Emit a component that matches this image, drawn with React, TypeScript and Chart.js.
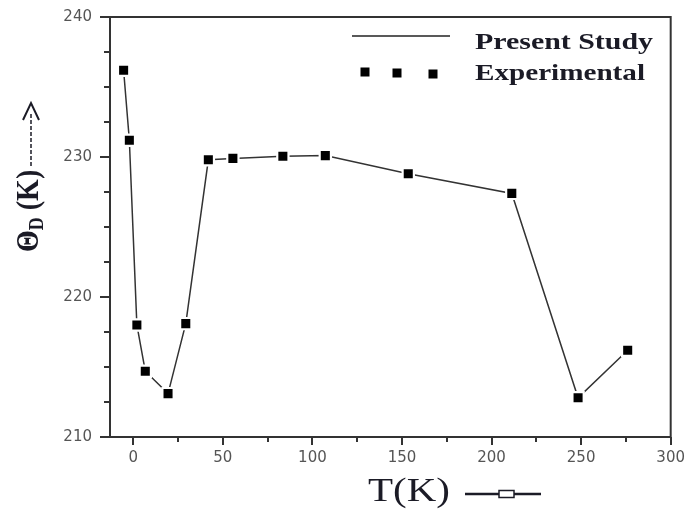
import React, { useEffect, useRef } from 'react';
import { Chart, registerables } from 'chart.js';

Chart.register(...registerables);

// ---- data ----
const tempK = [-5.4, -2.2, 2.0, 6.7, 19.4, 29.3, 41.9, 55.6, 83.5, 107.2, 153.5, 211.3, 248.3, 276.0];
const thetaD = [236.2, 231.2, 218.0, 214.7, 213.1, 218.1, 229.8, 229.9, 230.05, 230.1, 228.8, 227.4, 212.8, 216.2];

const xMajorTicks = [0, 50, 100, 150, 200, 250, 300];
const xMinorTicks = [25, 75, 125, 175, 225, 275];
const yMajorTicks = [210, 220, 230, 240];
const yMinorTicks = [212.5, 215, 217.5, 222.5, 225, 227.5, 232.5, 235, 237.5];

const lineLabel = 'Present Study';
const pointLabel = 'Experimental';
const xTitle = 'T(K)';
const yTitleMain = 'Θ';
const yTitleSub = 'D';
const yTitleEnd = ' (K)';

const INK = '#1b1b26';
const AXIS = '#333333';

function stretchedText(ctx: CanvasRenderingContext2D, text: string, x: number, y: number, font: string, width: number) {
  ctx.save();
  ctx.font = font;
  const w = ctx.measureText(text).width;
  ctx.translate(x, y);
  ctx.scale(width / w, 1);
  ctx.textAlign = 'left';
  ctx.textBaseline = 'alphabetic';
  ctx.fillText(text, 0, 0);
  ctx.restore();
}

const decorPlugin = {
  id: 'decor',
  afterDraw(chart: any) {
    const { ctx, chartArea: a, scales } = chart;
    const xs = scales.x;
    const ys = scales.y;
    ctx.save();

    // frame
    ctx.strokeStyle = AXIS;
    ctx.lineWidth = 2;
    ctx.strokeRect(a.left, a.top, a.right - a.left, a.bottom - a.top);

    // minor ticks
    ctx.beginPath();
    yMinorTicks.forEach((v) => {
      const py = Math.round(ys.getPixelForValue(v));
      ctx.moveTo(a.left - 6, py);
      ctx.lineTo(a.left, py);
    });
    xMinorTicks.forEach((v) => {
      const px = Math.round(xs.getPixelForValue(v));
      ctx.moveTo(px, a.bottom);
      ctx.lineTo(px, a.bottom + 5);
    });
    ctx.stroke();

    // legend
    ctx.fillStyle = INK;
    ctx.strokeStyle = '#222';
    ctx.lineWidth = 1.5;
    ctx.beginPath();
    ctx.moveTo(352, 36);
    ctx.lineTo(450, 36);
    ctx.stroke();
    ctx.fillStyle = '#000';
    [[365, 72], [397, 73], [433, 74]].forEach(([cx, cy]) => {
      ctx.fillRect(cx - 4.5, cy - 4.5, 9, 9);
    });
    ctx.fillStyle = INK;
    stretchedText(ctx, lineLabel, 475, 49, 'bold 24px "Liberation Serif"', 178);
    stretchedText(ctx, pointLabel, 475, 80, 'bold 24px "Liberation Serif"', 170);

    // x title
    stretchedText(ctx, xTitle, 368, 501, '34px "Liberation Serif"', 82);
    ctx.strokeStyle = INK;
    ctx.lineWidth = 2.5;
    ctx.beginPath();
    ctx.moveTo(465, 494);
    ctx.lineTo(499, 494);
    ctx.moveTo(514, 494);
    ctx.lineTo(541, 494);
    ctx.stroke();
    ctx.lineWidth = 1.5;
    ctx.fillStyle = '#fff';
    ctx.fillRect(499, 490.5, 15, 7);
    ctx.strokeRect(499, 490.5, 15, 7);

    // y title (rotated)
    ctx.save();
    ctx.translate(38, 252);
    ctx.rotate(-Math.PI / 2);
    ctx.scale(1, 1.15);
    ctx.fillStyle = INK;
    ctx.textAlign = 'left';
    ctx.textBaseline = 'alphabetic';
    ctx.font = 'bold 28px "Liberation Serif"';
    ctx.fillText(yTitleMain, 0, 0);
    let off = ctx.measureText(yTitleMain).width;
    ctx.font = 'bold 18px "Liberation Serif"';
    ctx.fillText(yTitleSub, off, 4);
    off += ctx.measureText(yTitleSub).width;
    ctx.font = 'bold 28px "Liberation Serif"';
    ctx.fillText(yTitleEnd, off, 0);
    ctx.restore();

    // dashed arrow
    ctx.strokeStyle = INK;
    ctx.lineWidth = 1.5;
    ctx.setLineDash([4, 2]);
    ctx.beginPath();
    ctx.moveTo(31, 166);
    ctx.lineTo(31, 112);
    ctx.stroke();
    ctx.setLineDash([]);
    ctx.lineWidth = 2;
    ctx.beginPath();
    ctx.moveTo(23, 120);
    ctx.lineTo(31, 103);
    ctx.lineTo(39, 120);
    ctx.stroke();

    ctx.restore();
  },
};

export default function App() {
  const ref = useRef<HTMLCanvasElement | null>(null);

  useEffect(() => {
    if (!ref.current) return;
    const pts = tempK.map((t, i) => ({ x: t, y: thetaD[i] }));
    const chart = new Chart(ref.current, {
      type: 'line',
      data: {
        datasets: [
          {
            label: lineLabel,
            data: pts,
            borderColor: AXIS,
            borderWidth: 1.5,
            pointStyle: 'rect',
            pointRadius: 9.5,
            pointBackgroundColor: '#ffffff',
            pointBorderWidth: 0,
            pointBorderColor: '#ffffff',
            order: 2,
          },
          {
            label: pointLabel,
            data: pts,
            showLine: false,
            pointStyle: 'rect',
            pointRadius: 6.4,
            pointBackgroundColor: '#000000',
            pointBorderWidth: 0,
            borderColor: '#000000',
            order: 1,
          },
        ],
      },
      options: {
        responsive: false,
        animation: false,
        layout: { padding: { top: 17, right: 15, left: 0, bottom: 0 } },
        plugins: { legend: { display: false }, tooltip: { enabled: false } },
        scales: {
          x: {
            type: 'linear',
            min: -13,
            max: 300,
            afterBuildTicks: (s: any) => {
              s.ticks = xMajorTicks.map((v) => ({ value: v }));
            },
            afterFit: (s: any) => {
              s.height = 72;
            },
            grid: { drawOnChartArea: false, drawTicks: true, tickLength: 8, lineWidth: 2, color: AXIS },
            border: { display: false },
            ticks: {
              padding: 4,
              color: '#555555',
              font: { family: 'DejaVu Sans', size: 15 },
              maxRotation: 0,
              autoSkip: false,
            },
          },
          y: {
            type: 'linear',
            min: 210,
            max: 240,
            afterBuildTicks: (s: any) => {
              s.ticks = yMajorTicks.map((v) => ({ value: v }));
            },
            afterFit: (s: any) => {
              s.width = 110;
            },
            grid: { drawOnChartArea: false, drawTicks: true, tickLength: 10, lineWidth: 2, color: AXIS },
            border: { display: false },
            ticks: {
              padding: 8,
              color: '#555555',
              font: { family: 'DejaVu Sans', size: 15 },
              autoSkip: false,
            },
          },
        },
      },
      plugins: [decorPlugin],
    });
    return () => chart.destroy();
  }, []);

  return (
    <div style={{ position: 'fixed', left: 0, top: 0, width: 689, height: 509, background: '#fff' }}>
      <canvas ref={ref} width={689} height={509} style={{ display: 'block' }} />
    </div>
  );
}
